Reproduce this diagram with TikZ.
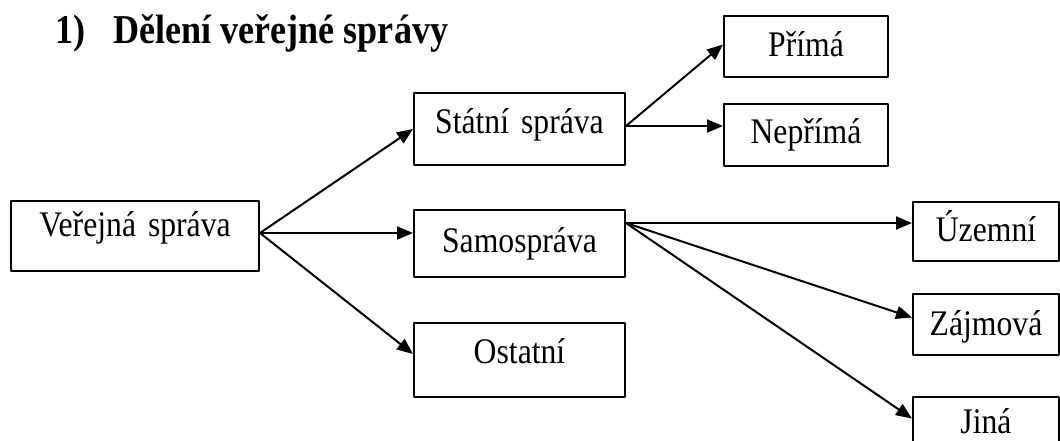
\documentclass[tikz,border=0pt]{standalone}
\usepackage{fontspec}
\setmainfont[FakeStretch=0.88]{Liberation Serif}
\usetikzlibrary{arrows.meta}
\tikzset{
  blok/.style={draw,line width=1pt,inner sep=0pt,align=center,anchor=north west,
    font=\fontsize{18}{20}\selectfont},
  sipka/.style={-{Triangle[length=8pt,width=6.5pt]},line width=1pt}
}
\begin{document}
\begin{tikzpicture}[x=0.5pt,y=-0.5pt,line join=round]
  \useasboundingbox (0,0) rectangle (1060,440);
  \clip (0,0) rectangle (1060,440);
  % nadpis
  \node[anchor=base west,inner sep=0pt,font=\bfseries\fontsize{20.5}{24}\selectfont] (nadpis) at (55,43)
    {1)\hspace{14pt}Dělení veřejné správy};
  % bloky
  \node[blok,text width=124pt,text height=17.5pt,text depth=17.5pt] (ves) at (10,200) {Veřejná správa};
  \node[blok,text width=105.5pt,text height=20pt,text depth=16pt] (stat) at (413,92) {Státní správa};
  \node[blok,text width=105.5pt,text height=21pt,text depth=12.5pt] (samo) at (413,209) {Samospráva};
  \node[blok,text width=105.5pt,text height=20pt,text depth=17pt] (ost) at (413,322) {Ostatní};
  \node[blok,text width=82pt,text height=20pt,text depth=10.5pt] (prima) at (723,15) {Přímá};
  \node[blok,text width=82pt,text height=19.5pt,text depth=11.5pt] (neprima) at (723,103) {Nepřímá};
  \node[blok,text width=73pt,text height=19.5pt,text depth=10pt] (uzem) at (912,201) {Územní};
  \node[blok,text width=73pt,text height=20.5pt,text depth=10pt] (zajm) at (912,293) {Zájmová};
  \node[blok,text width=73pt,text height=18pt,text depth=12.5pt] (jina) at (912,396) {Jiná};
  % vychozi body sipek
  \coordinate (ves-out) at ([yshift=1.5pt]ves.east);
  \coordinate (stat-out) at ([yshift=1.5pt]stat.east);
  \coordinate (samo-out) at ([yshift=-7pt]samo.north east);
  % sipky
  \draw[sipka] (ves-out) -- (stat.west);
  \draw[sipka] (ves-out) -- (samo.west |- ves-out);
  \draw[sipka] (ves-out) -- ([yshift=3pt]ost.west);
  \draw[sipka] (stat-out) -- ([yshift=1pt]prima.west);
  \draw[sipka] (stat-out) -- (neprima.west |- stat-out);
  \draw[sipka] (samo-out) -- (uzem.west |- samo-out);
  \draw[sipka] (samo-out) -- ([yshift=3.5pt]zajm.west);
  \draw[sipka] (samo-out) -- ([yshift=4.5pt]jina.west);
\end{tikzpicture}
\end{document}
